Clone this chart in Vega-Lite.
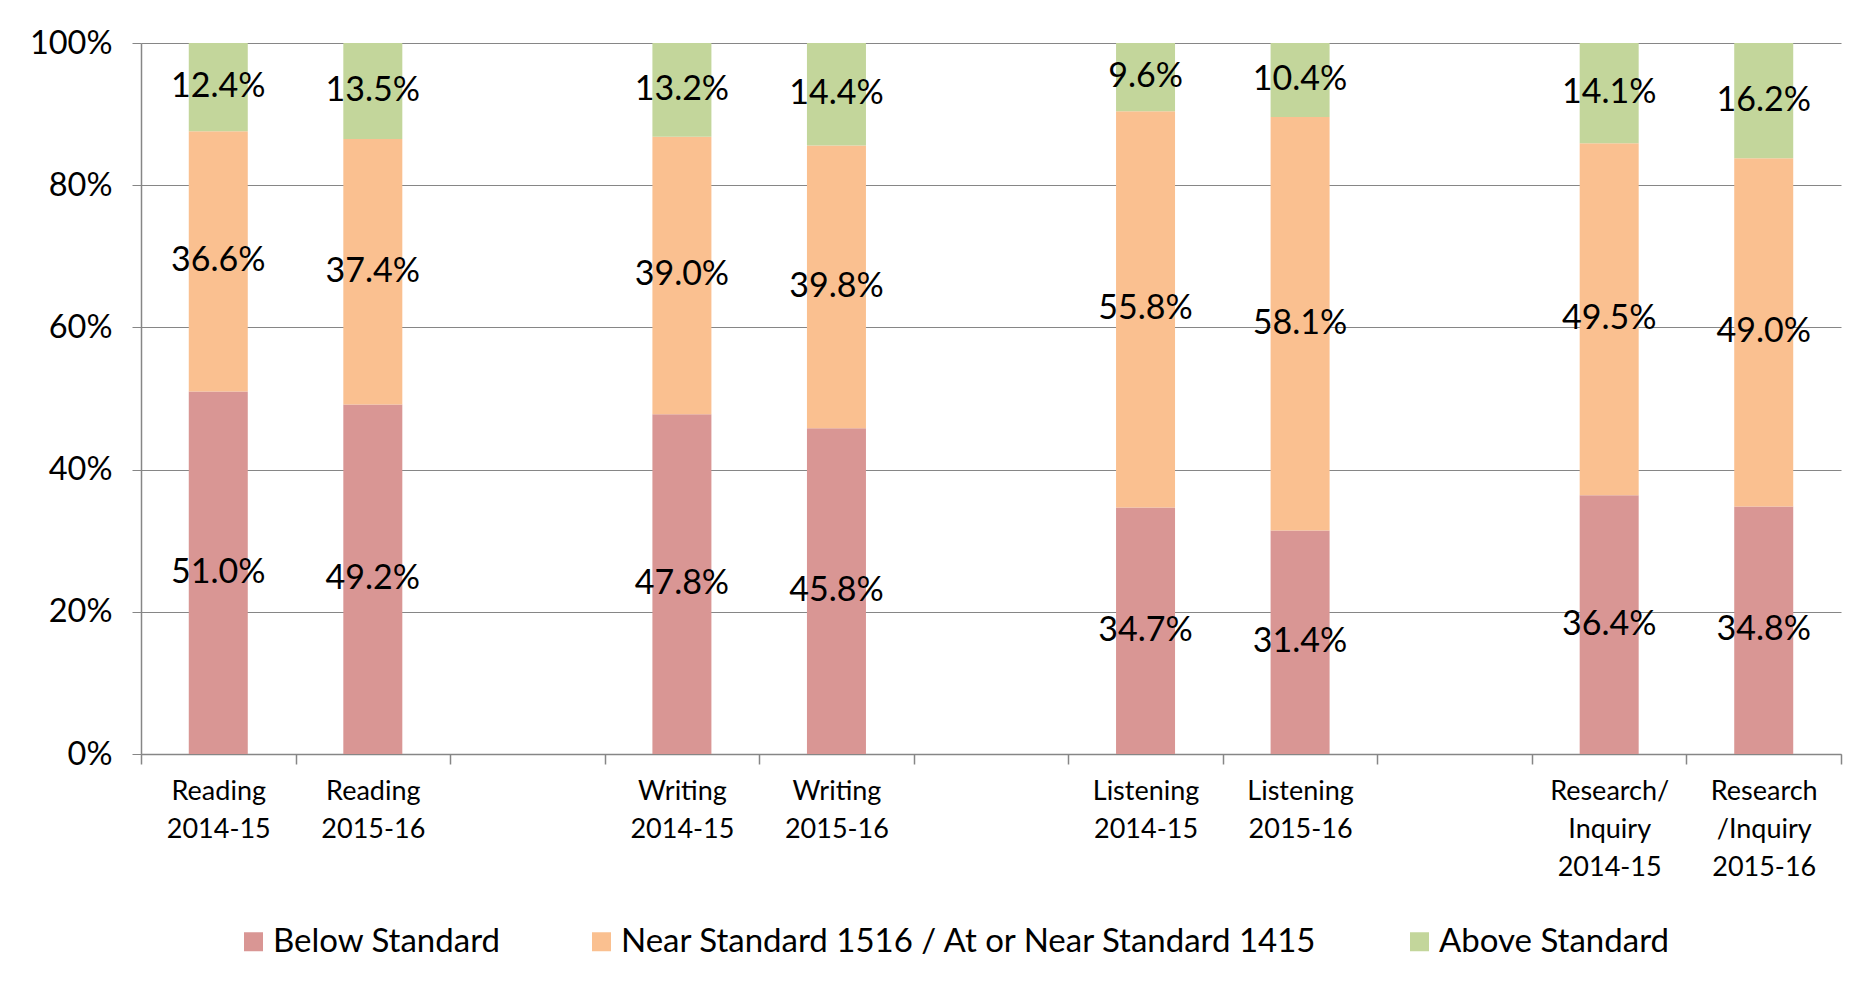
{
  "$schema": "https://vega.github.io/schema/vega-lite/v6.json",
  "autosize": "none",
  "width": 1700,
  "height": 711,
  "padding": {"left": 141, "top": 43, "right": 23, "bottom": 230},
  "background": "white",
  "config": {
    "font": "Lato",
    "view": {"stroke": null},
    "axis": {"labelColor": "black", "labelFont": "Lato"},
    "legend": {"labelFont": "Lato"}
  },
  "data": {
    "values": [
      {"cat": "Reading|2014-15", "status": "Below Standard", "ord": 1, "value": 0.510},
      {"cat": "Reading|2014-15", "status": "Near Standard 1516 / At or Near Standard 1415", "ord": 2, "value": 0.366},
      {"cat": "Reading|2014-15", "status": "Above Standard", "ord": 3, "value": 0.124},
      {"cat": "Reading|2015-16", "status": "Below Standard", "ord": 1, "value": 0.492},
      {"cat": "Reading|2015-16", "status": "Near Standard 1516 / At or Near Standard 1415", "ord": 2, "value": 0.374},
      {"cat": "Reading|2015-16", "status": "Above Standard", "ord": 3, "value": 0.135},
      {"cat": "Writing|2014-15", "status": "Below Standard", "ord": 1, "value": 0.478},
      {"cat": "Writing|2014-15", "status": "Near Standard 1516 / At or Near Standard 1415", "ord": 2, "value": 0.390},
      {"cat": "Writing|2014-15", "status": "Above Standard", "ord": 3, "value": 0.132},
      {"cat": "Writing|2015-16", "status": "Below Standard", "ord": 1, "value": 0.458},
      {"cat": "Writing|2015-16", "status": "Near Standard 1516 / At or Near Standard 1415", "ord": 2, "value": 0.398},
      {"cat": "Writing|2015-16", "status": "Above Standard", "ord": 3, "value": 0.144},
      {"cat": "Listening|2014-15", "status": "Below Standard", "ord": 1, "value": 0.347},
      {"cat": "Listening|2014-15", "status": "Near Standard 1516 / At or Near Standard 1415", "ord": 2, "value": 0.558},
      {"cat": "Listening|2014-15", "status": "Above Standard", "ord": 3, "value": 0.096},
      {"cat": "Listening|2015-16", "status": "Below Standard", "ord": 1, "value": 0.314},
      {"cat": "Listening|2015-16", "status": "Near Standard 1516 / At or Near Standard 1415", "ord": 2, "value": 0.581},
      {"cat": "Listening|2015-16", "status": "Above Standard", "ord": 3, "value": 0.104},
      {"cat": "Research/|Inquiry|2014-15", "status": "Below Standard", "ord": 1, "value": 0.364},
      {"cat": "Research/|Inquiry|2014-15", "status": "Near Standard 1516 / At or Near Standard 1415", "ord": 2, "value": 0.495},
      {"cat": "Research/|Inquiry|2014-15", "status": "Above Standard", "ord": 3, "value": 0.141},
      {"cat": "Research|/Inquiry|2015-16", "status": "Below Standard", "ord": 1, "value": 0.348},
      {"cat": "Research|/Inquiry|2015-16", "status": "Near Standard 1516 / At or Near Standard 1415", "ord": 2, "value": 0.490},
      {"cat": "Research|/Inquiry|2015-16", "status": "Above Standard", "ord": 3, "value": 0.162}
    ]
  },
  "transform": [
    {"stack": "value", "groupby": ["cat"], "offset": "normalize", "sort": [{"field": "ord", "order": "ascending"}], "as": ["y0", "y1"]},
    {"calculate": "(datum.y0 + datum.y1) / 2", "as": "ymid"}
  ],
  "encoding": {
    "x": {
      "field": "cat",
      "type": "nominal",
      "sort": null,
      "scale": {
        "domain": ["Reading|2014-15", "Reading|2015-16", "gap1", "Writing|2014-15", "Writing|2015-16", "gap2", "Listening|2014-15", "Listening|2015-16", "gap3", "Research/|Inquiry|2014-15", "Research|/Inquiry|2015-16"],
        "paddingInner": 0,
        "paddingOuter": 0
      },
      "axis": {
        "title": null,
        "labelAngle": 0,
        "labelExpr": "indexof(datum.label, 'gap') == 0 ? '' : split(datum.label, '|')",
        "labelFontSize": 27,
        "labelLineHeight": 38,
        "labelBaseline": "top",
        "labelPadding": 14,
        "tickBand": "extent",
        "tickSize": 10,
        "tickColor": "#868686",
        "tickWidth": 1.5,
        "domainColor": "#868686",
        "domainWidth": 1.5,
        "grid": false
      }
    }
  },
  "layer": [
    {
      "mark": {"type": "bar", "width": 59},
      "encoding": {
        "y": {
          "field": "y0",
          "type": "quantitative",
          "scale": {"domain": [0, 1]},
          "axis": {
            "title": null,
            "format": "%",
            "values": [0, 0.2, 0.4, 0.6, 0.8, 1],
            "labelFontSize": 32.5,
            "labelPadding": 20,
            "tickSize": 9,
            "tickColor": "#868686",
            "domainColor": "#868686",
            "domainWidth": 1.5,
            "gridColor": "#868686",
            "gridWidth": 1.2
          }
        },
        "y2": {"field": "y1"},
        "color": {
          "field": "status",
          "type": "nominal",
          "scale": {
            "domain": ["Below Standard", "Near Standard 1516 / At or Near Standard 1415", "Above Standard"],
            "range": ["#D99694", "#FAC090", "#C3D69B"]
          },
          "legend": {
            "title": null,
            "orient": "none",
            "direction": "horizontal",
            "legendX": 96,
            "legendY": 882,
            "symbolType": "square",
            "symbolSize": 361,
            "symbolStrokeWidth": 0,
            "symbolOpacity": 1,
            "labelFontSize": 33,
            "labelColor": "black",
            "labelOffset": 3,
            "labelLimit": 1000,
            "columnPadding": 84,
            "padding": 0
          }
        },
        "order": {"field": "ord"}
      }
    },
    {
      "mark": {"type": "text", "fontSize": 34, "color": "black", "baseline": "middle", "align": "center"},
      "encoding": {
        "y": {"field": "ymid", "type": "quantitative"},
        "text": {"field": "value", "type": "quantitative", "format": ".1%"}
      }
    }
  ]
}
